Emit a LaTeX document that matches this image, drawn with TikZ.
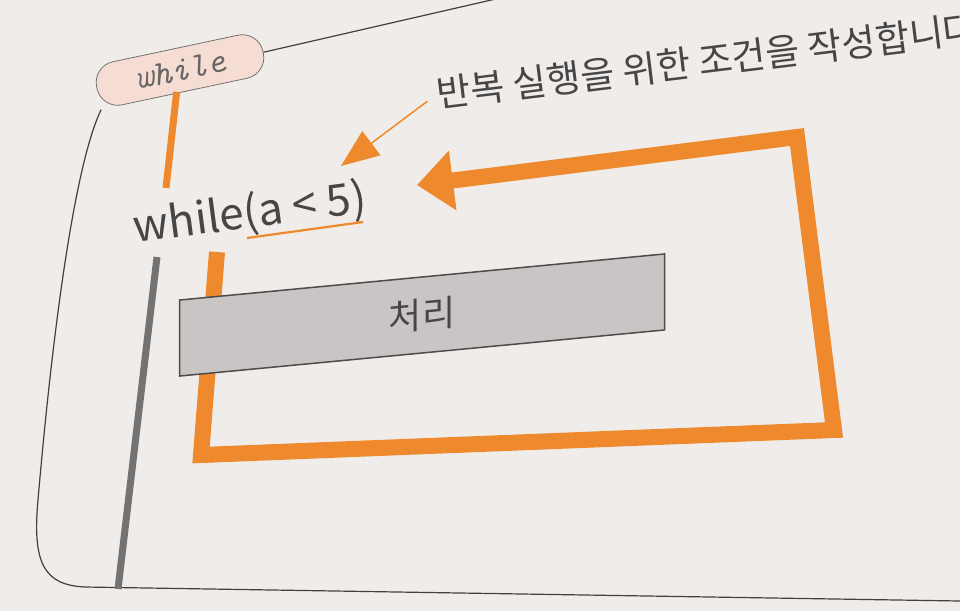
\documentclass[tikz,border=0pt]{standalone}
\usepackage{fontspec}
\usepackage{tikz}
\usetikzlibrary{arrows.meta,positioning,calc}
\newfontfamily\krfont{Noto Sans CJK KR}
\definecolor{whorange}{RGB}{238,137,45}
\definecolor{whpaper}{RGB}{240,236,233}
\definecolor{whpink}{RGB}{245,221,211}
\definecolor{whbox}{RGB}{201,197,196}
\definecolor{whink}{RGB}{70,70,70}
\tikzset{
  wh/tag/.style={draw=black!55, fill=whpink, thick, rounded corners=21pt, minimum width=170pt, minimum height=44pt, inner sep=0pt, text=black!60, font=\ttfamily\itshape\fontsize{35}{37}\selectfont},
  wh/code/.style={inner sep=0pt, text=whink, font=\krfont\fontsize{44}{48}\selectfont},
  wh/note/.style={inner sep=0pt, text=whink, font=\krfont\fontsize{37}{40}\selectfont},
  wh/body/.style={draw=black!70, fill=whbox, line width=1.5pt, minimum width=485pt, minimum height=76pt, inner sep=0pt, text=whink, font=\krfont\fontsize{36}{40}\selectfont},
  wh/frame/.style={draw=black!75, line width=1.2pt},
  wh/bar/.style={draw=black!55, line width=7pt},
  wh/stem/.style={draw=whorange, line width=7pt},
  wh/loop/.style={draw=whorange, line width=16pt, line join=miter, -{Triangle[length=36pt,width=58pt]}},
  wh/pointer/.style={draw=whorange, line width=1.5pt, -{Triangle[length=38pt,width=30pt]}},
  wh/mark/.style={draw=whorange, line width=2.2pt}
}

\begin{document}
\begin{tikzpicture}[x=1pt, y=-1pt]
  \path[use as bounding box, fill=whpaper] (0,0) rectangle (960,611);
  \clip (0,0) rectangle (960,611);

  % tag and frame
  \node[wh/tag, rotate=12] (tag) at (180,70) {while};
  \coordinate (ftop) at (500,-2);
  \draw[wh/frame] (tag.east) -- (ftop);
  \draw[wh/frame] (tag.south west) .. controls (72,170) and (50,360) .. (38,500)
    .. controls (32,565) and (45,585) .. (85,587) -- (960,601);

  % while block
  \coordinate (bartop) at (157,257);
  \coordinate (barbot) at (118,589);
  \draw[wh/bar] (bartop) -- (barbot);

  \node[wh/code, rotate=7.5] (cond) at (250,214) {while(a < 5)};
  \coordinate (stemend) at (166,188);
  \draw[wh/stem] ([xshift=-8pt]tag.south) -- (stemend);
  \coordinate (ulA) at (247,238);
  \coordinate (ulB) at (363,222);
  \draw[wh/mark] (ulA) -- (ulB);

  % repeat loop
  \coordinate (c1) at (217,252);
  \coordinate (c2) at (201,455);
  \coordinate (c3) at (834,430);
  \coordinate (c4) at (797,137);
  \coordinate (back) at (417,185);
  \draw[wh/loop] (c1) -- (c2) -- (c3) -- (c4) -- (back);

  \node[wh/body, yslant=0.095] (body) at (422,315) {처리};

  % note
  \node[wh/note, rotate=7, anchor=west] (note) at (437,94) {반복 실행을 위한 조건을 작성합니다};
  \coordinate (condtip) at (341,166);
  \draw[wh/pointer, shorten <=12pt] (note.west) -- (condtip);
\end{tikzpicture}
\end{document}
